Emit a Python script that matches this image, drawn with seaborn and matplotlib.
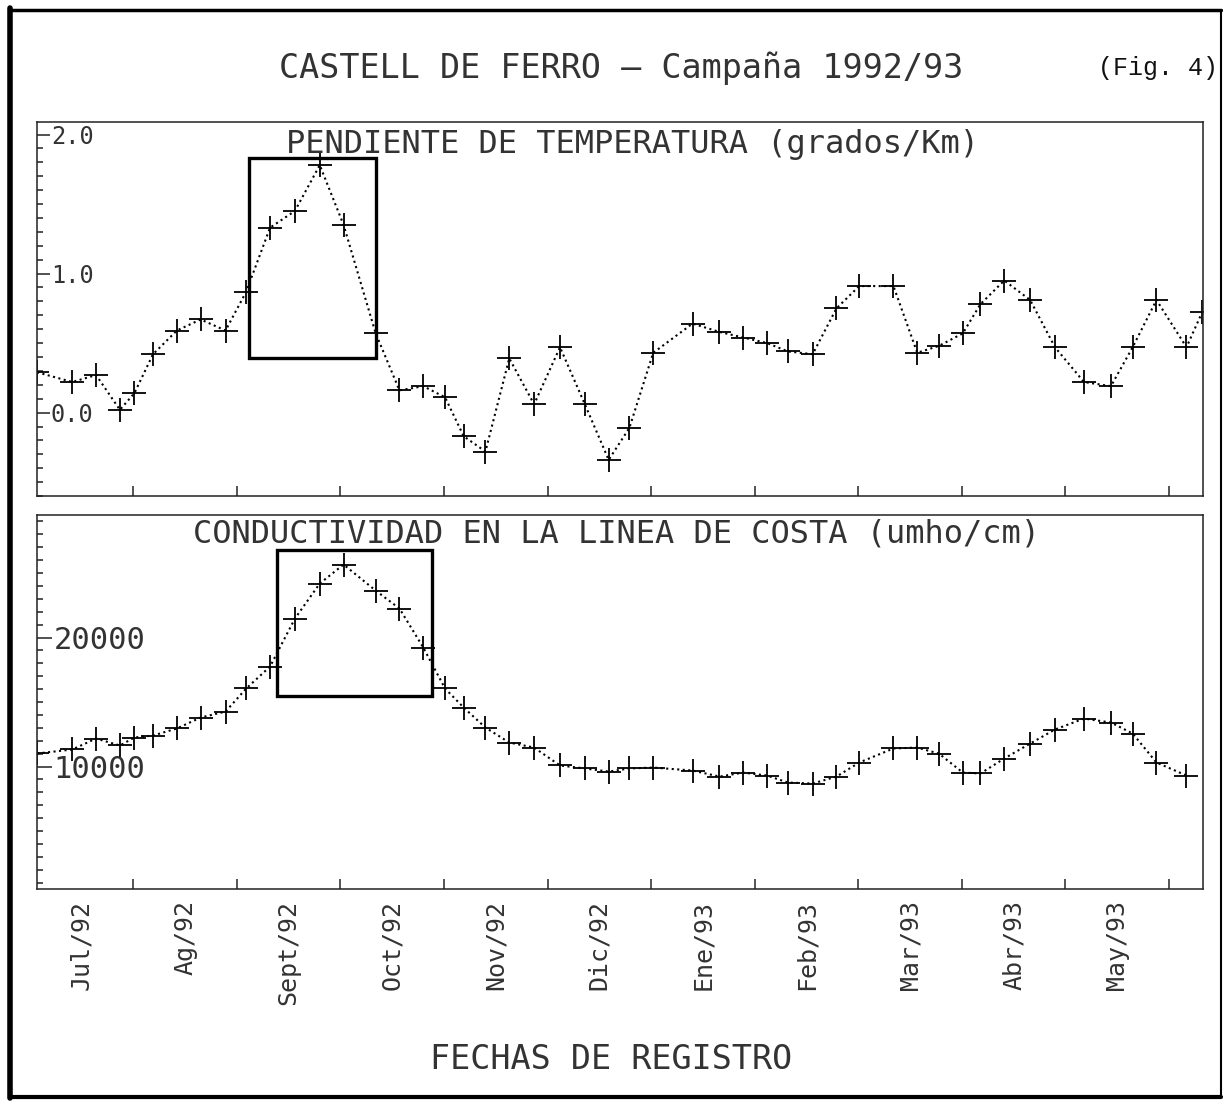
import matplotlib.pyplot as plt
import seaborn as sns
import pandas as pd
from matplotlib.ticker import MultipleLocator
from matplotlib.patches import Rectangle
from matplotlib.lines import Line2D

# Fechas de registro (meses desde el 1 de julio de 1992, aprox. semanales)
mes = [0.07, 0.41, 0.64, 0.87, 1.01, 1.19, 1.42, 1.65, 1.89, 2.09,
       2.32, 2.56, 2.80, 3.03, 3.34, 3.57, 3.80, 4.01, 4.19, 4.40,
       4.63, 4.87, 5.12, 5.36, 5.59, 5.79, 6.02, 6.40, 6.66, 6.89,
       7.12, 7.32, 7.56, 7.79, 8.01, 8.34, 8.57, 8.78, 9.01, 9.18,
       9.41, 9.66, 9.90, 10.18, 10.44, 10.65, 10.88, 11.17, 11.32]

# Pendiente de temperatura (grados/Km)
pendiente = [0.29, 0.22, 0.27, 0.02, 0.14, 0.42, 0.59, 0.67, 0.59, 0.87,
             1.33, 1.45, 1.78, 1.35, 0.57, 0.16, 0.19, 0.11, -0.17, -0.28,
             0.39, 0.06, 0.47, 0.06, -0.34, -0.11, 0.43, 0.64, 0.58, 0.54,
             0.50, 0.44, 0.42, 0.75, 0.91, 0.91, 0.43, 0.48, 0.57, 0.78,
             0.95, 0.81, 0.47, 0.22, 0.19, 0.47, 0.81, 0.47, 0.72]

# Conductividad en la linea de costa (umho/cm)
conductividad = [11010, 11320, 12170, 11630, 12250, 12400, 12950, 13800, 14260, 16050,
                 17750, 21470, 24190, 25660, 23640, 22250, 19220, 16050, 14570, 13020,
                 11860, 11470, 10080, 9850, 9610, 9850, 9920, 9690, 9220, 9530,
                 9300, 8760, 8680, 9220, 10310, 11400, 11470, 11000, 9530, 9460,
                 10620, 11780, 12870, 13720, 13410, 12560, 10310, 9300]

meses = ['Jul/92', 'Ag/92', 'Sept/92', 'Oct/92', 'Nov/92', 'Dic/92',
         'Ene/93', 'Feb/93', 'Mar/93', 'Abr/93', 'May/93']

# recuadros destacados: (x0, x1, y0, y1)
recuadro_temp = (2.12, 3.34, 0.39, 1.83)
recuadro_cond = (2.39, 3.88, 15500, 26820)

temp = pd.DataFrame({'mes': mes, 'pendiente': pendiente})
cond = pd.DataFrame({'mes': mes[:len(conductividad)], 'conductividad': conductividad})

sns.set_style('ticks')
plt.rcParams['font.family'] = ['DejaVu Sans Mono', 'DejaVu Sans']
txt = '#333333'

fig = plt.figure(figsize=(12.23, 11.04), dpi=100)
ax1 = fig.add_axes([0.0303, 0.5507, 0.9534, 0.3388])
ax2 = fig.add_axes([0.0303, 0.1947, 0.9534, 0.3388])

line_kw = dict(color='k', marker='+', linestyle=':', linewidth=1.5,
               markersize=17, markeredgewidth=1.3, markeredgecolor='k',
               estimator=None, sort=False)
sns.lineplot(data=temp, x='mes', y='pendiente', ax=ax1, **line_kw)
sns.lineplot(data=cond, x='mes', y='conductividad', ax=ax2, **line_kw)

for ax, box in [(ax1, recuadro_temp), (ax2, recuadro_cond)]:
    ax.add_patch(Rectangle((box[0], box[2]), box[1] - box[0], box[3] - box[2],
                           fill=False, edgecolor='k', linewidth=2.4, zorder=3))
    ax.set_xlim(0.07, 11.33)
    ax.set_xlabel('')
    ax.set_ylabel('')
    ax.set_xticks(range(1, 12))
    ax.set_xticklabels([])
    for s in ax.spines.values():
        s.set_visible(True)
        s.set_linewidth(1.1)
        s.set_color('#222222')
    ax.tick_params(axis='x', which='major', direction='in', length=7, width=1.1)
    ax.tick_params(axis='y', which='both', direction='in', width=1.1, colors='#222222')
    ax.tick_params(axis='y', which='minor', length=4.5)

# panel superior
ax1.set_ylim(-0.6, 2.09)
ax1.set_yticks([0.0, 1.0, 2.0])
ax1.set_yticklabels(['0.0', '1.0', '2.0'])
ax1.yaxis.set_minor_locator(MultipleLocator(0.1))
ax1.tick_params(axis='y', which='major', length=9, pad=-10, labelsize=17, labelcolor=txt)
ax1.text(0.511, 0.94, 'PENDIENTE DE TEMPERATURA (grados/Km)', transform=ax1.transAxes,
         ha='center', va='center', fontsize=23, color=txt)

# panel inferior
ax2.set_ylim(500, 29500)
ax2.set_yticks([10000, 20000])
ax2.set_yticklabels(['10000', '20000'])
ax2.yaxis.set_minor_locator(MultipleLocator(1000))
ax2.tick_params(axis='y', which='major', length=11, pad=-12, labelsize=22, labelcolor=txt)
ax2.set_xticks([i + 0.5 for i in range(len(meses))], meses, minor=True)
ax2.tick_params(axis='x', which='minor', length=0, rotation=90, labelsize=18, pad=8,
                labelcolor=txt)
ax2.text(0.497, 0.948, 'CONDUCTIVIDAD EN LA LINEA DE COSTA (umho/cm)', transform=ax2.transAxes,
         ha='center', va='center', fontsize=23, color=txt)

for ax in (ax1, ax2):
    for lbl in ax.get_yticklabels():
        lbl.set_horizontalalignment('left')

fig.text(0.508, 0.938, 'CASTELL DE FERRO – Campaña 1992/93', ha='center', va='center',
         fontsize=24, color=txt)
fig.text(0.996, 0.938, '(Fig. 4)', ha='right', va='center', fontsize=18,
         family='Liberation Mono', color='#111111')
fig.text(0.5, 0.040, 'FECHAS DE REGISTRO', ha='center', va='center',
         fontsize=24, color=txt)

# marco de la hoja
W, H = 1223, 1104
for (x0, y0, x1, y1, lw) in [(10, 10, 1221, 10, 2.5), (10, 8, 10, 1098, 4.0),
                             (10, 1097, 1221, 1097, 3.0), (1221, 10, 1221, 1097, 1.5)]:
    fig.add_artist(Line2D([x0 / W, x1 / W], [1 - y0 / H, 1 - y1 / H],
                          transform=fig.transFigure, color='k', linewidth=lw))

plt.savefig('out.png', dpi=100)
